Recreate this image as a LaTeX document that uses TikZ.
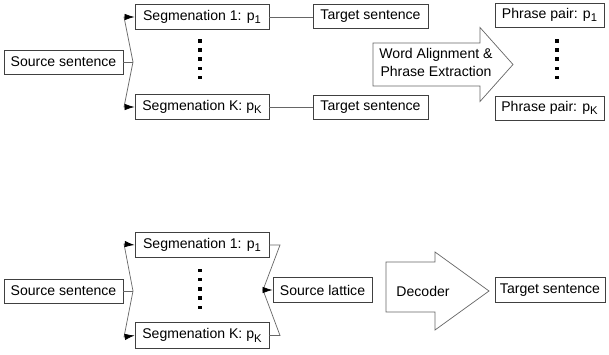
\documentclass[tikz,border=0pt]{standalone}
\usepackage{fontspec}
\setmainfont{Liberation Sans}
\usetikzlibrary{arrows.meta, positioning}
\newcommand\pidx[1]{p\raisebox{-0.5ex}{\fontsize{8}{9}\selectfont #1}}

\begin{document}
\begin{tikzpicture}[
  x=0.025cm, y=-0.025cm,
  font=\fontsize{10}{12}\selectfont,
  box/.style={draw=black!75, line width=0.5pt, inner sep=0pt, minimum height=0.6cm},
  segbox/.style={box, minimum width=3.35cm, minimum height=0.64cm},
  link/.style={draw=black!60, line width=0.5pt},
  tip/.style={link, -{Latex[length=2.5mm,width=1.6mm,color=black]}},
  bigarrow/.style={draw=black!60, line width=0.5pt, fill=white}
]
\useasboundingbox (0,0) rectangle (609,354);
\node[box, minimum width=2.975cm] (src) at (63.5,62) {Source sentence};
\node[segbox] (seg1) at (202,17) {Segmenation 1: \pidx{1}};
\node[segbox] (segK) at (202,107) {Segmenation K: \pidx{K}};
\node[box, minimum width=2.875cm] (tgt1) at (370.5,16) {Target sentence};
\node[box, minimum width=2.875cm] (tgtK) at (370.5,107.5) {Target sentence};
\node[box, minimum width=2.725cm] (pp1) at (549.5,15) {Phrase pair: \pidx{1}};
\node[box, minimum width=2.725cm] (ppK) at (549.5,108) {Phrase pair: \pidx{K}};
\draw[link] (src.east) -- (133,62) coordinate (fork);
\draw[tip] (fork) -- (124,17) -- (seg1.west);
\draw[tip] (fork) -- (124,107) -- (segK.west);
\draw[link] (seg1.east) -- (seg1.east -| tgt1.west);
\draw[link] (segK.east) -- (segK.east -| tgtK.west);
\foreach \y in {0,...,4} {
  \fill (198,39+9.2*\y) rectangle ++(4,3.6);
  \fill (555,39+9.2*\y) rectangle ++(4,3.6);
}
\draw[bigarrow] (373,43) -- (480,43) -- (480,27.5) -- (513,64.5) -- (480,101.5) -- (480,86) -- (373,86) -- cycle;
\node[align=center, inner sep=0pt] (align) at (436,62.5) {Word Alignment \&\\[1pt]Phrase Extraction};

\node[box, minimum width=2.975cm] (src2) at (63.5,291) {Source sentence};
\node[segbox] (seg1b) at (202,245) {Segmenation 1: \pidx{1}};
\node[segbox] (segKb) at (202,335.5) {Segmenation K: \pidx{K}};
\node[box, minimum width=2.475cm, minimum height=0.625cm] (lat) at (322.5,290) {Source lattice};
\node[box, minimum width=2.75cm, minimum height=0.625cm] (tgt2) at (550,290) {Target sentence};
\draw[link] (src2.east) -- (133,291) coordinate (fork2);
\draw[tip] (fork2) -- (124,244) -- (seg1b.west);
\draw[tip] (fork2) -- (124,337) -- (segKb.west);
\coordinate (merge) at (263,290);
\draw[link] (seg1b.east) -- (280,245) -- (merge);
\draw[link] (segKb.east) -- (280,335.5) -- (merge);
\draw[tip] (merge) -- (lat.west);
\foreach \y in {0,...,4}
  \fill (198,268.5+9.3*\y) rectangle ++(4,3.6);
\draw[bigarrow] (386,262) -- (435,262) -- (435,252) -- (489,291) -- (435,330) -- (435,312) -- (386,312) -- cycle;
\node[inner sep=0pt] (dec) at (423,291) {Decoder};
\end{tikzpicture}
\end{document}
